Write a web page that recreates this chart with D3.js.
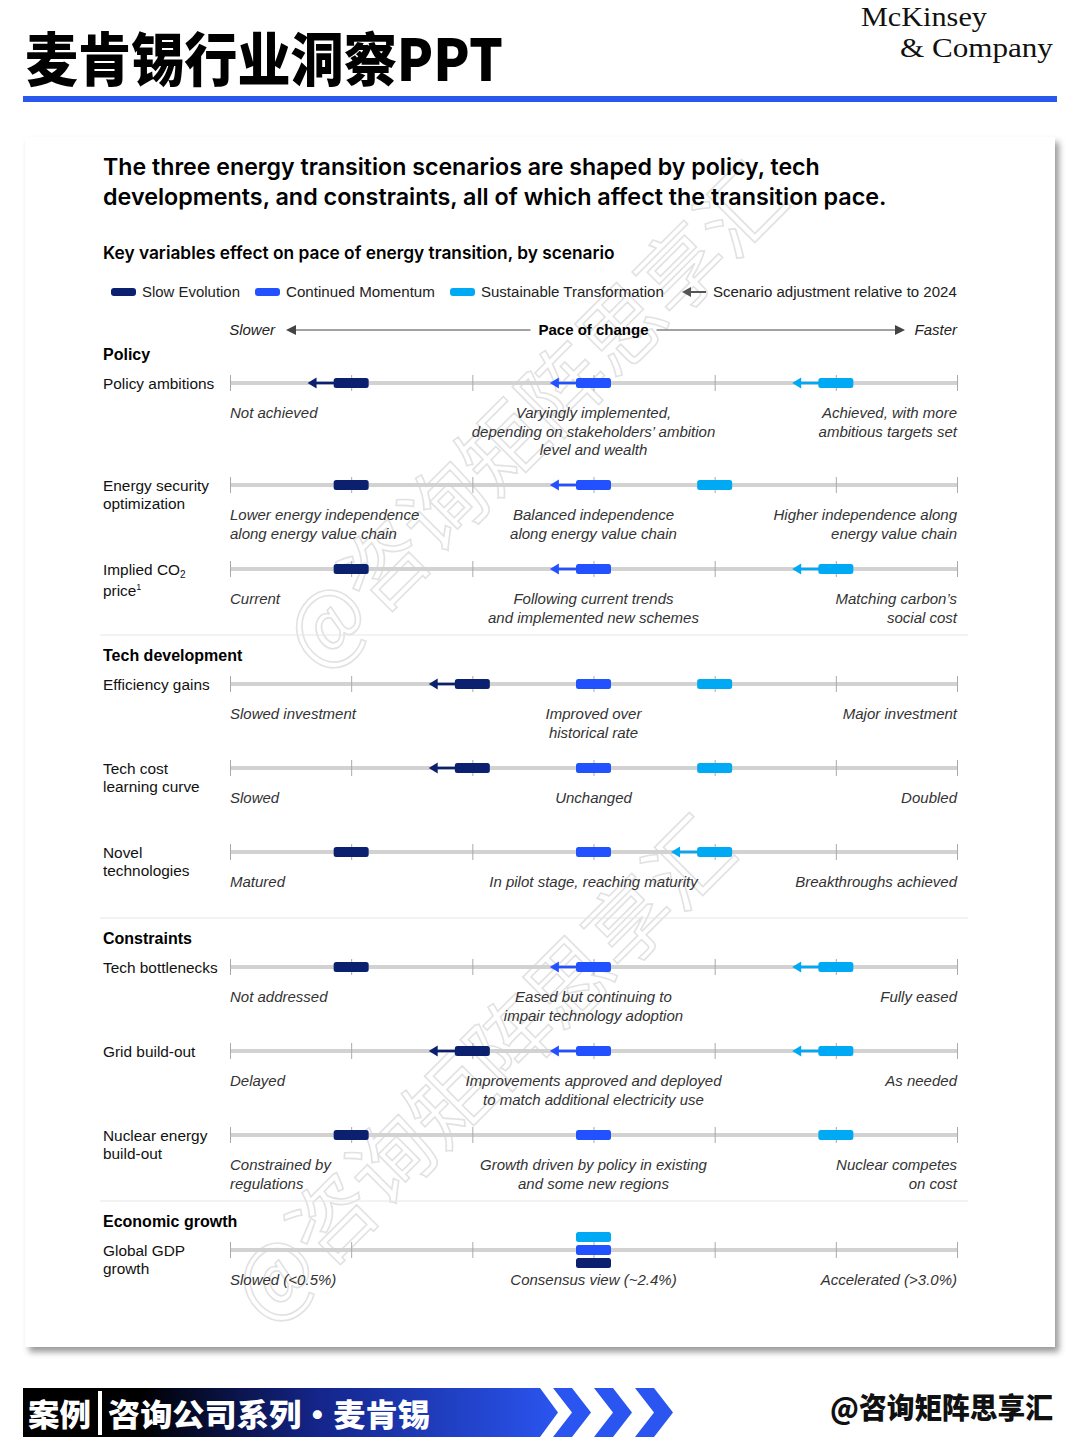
<!DOCTYPE html>
<html><head><meta charset="utf-8">
<script src="https://cdn.jsdelivr.net/npm/d3@7"></script>
<style>
html,body{margin:0;padding:0;background:#fff;}
svg{display:block;}
</style></head>
<body>
<svg id="chart" width="1080" height="1437"></svg>
<script>
// ---------------- DATA ----------------
const scenarios = ["Slow Evolution", "Continued Momentum", "Sustainable Transformation"];
const adjustmentLabel = "Scenario adjustment relative to 2024";
const sections = ["Policy", "Tech development", "Constraints", "Economic growth"];
const rowSection = [0, 0, 0, 1, 1, 1, 2, 2, 2, 3];
const rowLabels = [
  "Policy ambitions",
  "Energy security\noptimization",
  "Implied CO₂\nprice¹",
  "Efficiency gains",
  "Tech cost\nlearning curve",
  "Novel\ntechnologies",
  "Tech bottlenecks",
  "Grid build-out",
  "Nuclear energy\nbuild-out",
  "Global GDP\ngrowth"
];
// position on the 0 (slower) .. 6 (faster) pace scale
const slowValues        = [1, 1, 1, 2, 2, 1, 1, 2, 1, 3];
const momentumValues    = [3, 3, 3, 3, 3, 3, 3, 3, 3, 3];
const sustainableValues = [5, 4, 5, 4, 4, 4, 5, 5, 5, 3];
// 1 = adjusted towards slower relative to 2024 (arrow)
const slowAdjusted        = [1, 0, 0, 1, 1, 0, 0, 1, 0, 0];
const momentumAdjusted    = [1, 1, 1, 0, 0, 0, 1, 1, 0, 0];
const sustainableAdjusted = [1, 0, 1, 0, 0, 1, 1, 1, 0, 0];
const paceTicks = [0, 1, 2, 3, 4, 5, 6];
const descLeft = [
  "Not achieved",
  "Lower energy independence\nalong energy value chain",
  "Current",
  "Slowed investment",
  "Slowed",
  "Matured",
  "Not addressed",
  "Delayed",
  "Constrained by\nregulations",
  "Slowed (<0.5%)"
];
const descMid = [
  "Varyingly implemented,\ndepending on stakeholders’ ambition\nlevel and wealth",
  "Balanced independence\nalong energy value chain",
  "Following current trends\nand implemented new schemes",
  "Improved over\nhistorical rate",
  "Unchanged",
  "In pilot stage, reaching maturity",
  "Eased but continuing to\nimpair technology adoption",
  "Improvements approved and deployed\nto match additional electricity use",
  "Growth driven by policy in existing\nand some new regions",
  "Consensus view (~2.4%)"
];
const descRight = [
  "Achieved, with more\nambitious targets set",
  "Higher independence along\nenergy value chain",
  "Matching carbon’s\nsocial cost",
  "Major investment",
  "Doubled",
  "Breakthroughs achieved",
  "Fully eased",
  "As needed",
  "Nuclear competes\non cost",
  "Accelerated (>3.0%)"
];
const headerTitle = "麦肯锡行业洞察PPT";
const chartTitle = ["The three energy transition scenarios are shaped by policy, tech",
                    "developments, and constraints, all of which affect the transition pace."];
const chartSubtitle = "Key variables effect on pace of energy transition, by scenario";
const footerLeft = "案例";
const footerMid = "咨询公司系列·麦肯锡";
const footerRight = "@咨询矩阵思享汇";

// ---------------- STYLE ----------------
const colors = ["#0b2170", "#2251ff", "#00a9f4"];
const SANS = "'Liberation Sans', Arial, sans-serif";
const HEAD = "Inter, 'Liberation Sans', sans-serif";
const CJK = "'Noto Sans CJK SC', sans-serif";
const TXT = "#222";

const svg = d3.select("#chart");
const defs = svg.append("defs");

function fit(sel, w) {
  const m = sel.node().getComputedTextLength();
  const fs = parseFloat(sel.attr("font-size"));
  sel.attr("font-size", fs * w / m);
  return sel;
}
// horizontal squeeze/stretch to a target width, keeping the glyph height
function fitX(sel, w) {
  const m = sel.node().getComputedTextLength();
  const x0 = +sel.attr("x");
  sel.attr("transform", `translate(${x0},0) scale(${w / m},1) translate(${-x0},0)`);
  return sel;
}

// ---------- header ----------
fitX(svg.append("text").attr("x", 25).attr("y", 81).attr("font-family", CJK).attr("font-weight", 900)
  .attr("font-size", 58).attr("fill", "#000").text(headerTitle), 478);
fitX(svg.append("text").attr("x", 861).attr("y", 26).attr("font-family", "'Liberation Serif', serif")
  .attr("font-size", 28).attr("fill", "#111").text("McKinsey"), 126);
fitX(svg.append("text").attr("x", 900).attr("y", 57).attr("font-family", "'Liberation Serif', serif")
  .attr("font-size", 28).attr("fill", "#111").text("& Company"), 153);
svg.append("rect").attr("x", 23).attr("y", 96).attr("width", 1034).attr("height", 6).attr("fill", "#2b58ec");

// ---------- card ----------
const sh = defs.append("filter").attr("id", "sh").attr("x", "-5%").attr("y", "-5%").attr("width", "110%").attr("height", "110%");
sh.append("feDropShadow").attr("dx", 4).attr("dy", 5).attr("stdDeviation", 3).attr("flood-color", "#000").attr("flood-opacity", 0.4);
svg.append("rect").attr("x", 25).attr("y", 137).attr("width", 1030).attr("height", 1210)
  .attr("fill", "#fff").attr("filter", "url(#sh)");

// ---------- watermark ----------
[[530, 412], [478, 1065]].forEach(([cx, cy]) => {
  svg.append("text").attr("transform", `translate(${cx},${cy}) rotate(-45)`)
    .attr("text-anchor", "middle").attr("dominant-baseline", "central")
    .attr("font-family", CJK).attr("font-weight", 400).attr("font-size", 84)
    .attr("fill", "none").attr("stroke", "#e2e2e2").attr("stroke-width", 1.6)
    .text(footerRight);
});

// ---------- titles ----------
chartTitle.forEach((t, i) => {
  fit(svg.append("text").attr("x", 103).attr("y", 175 + i * 30).attr("font-family", HEAD)
    .attr("font-weight", 600).attr("font-size", 23).attr("fill", "#000").text(t), i === 0 ? 717 : 784);
});
fit(svg.append("text").attr("x", 103).attr("y", 259).attr("font-family", HEAD).attr("font-weight", 600)
  .attr("font-size", 17).attr("fill", "#000").text(chartSubtitle), 512);

// ---------- legend ----------
const legendWidths = [98, 149, 183];
let lx = 111;
const ly = 292;
scenarios.forEach((s, i) => {
  svg.append("rect").attr("x", lx).attr("y", ly - 4).attr("width", 25).attr("height", 8).attr("rx", 3).attr("fill", colors[i]);
  const t = svg.append("text").attr("x", lx + 31).attr("y", ly + 5).attr("font-family", SANS)
    .attr("font-size", 15).attr("fill", TXT).text(s);
  fitX(t, legendWidths[i]);
  lx += 31 + legendWidths[i] + 15;
});
lx += 3;
svg.append("line").attr("x1", lx + 7).attr("x2", lx + 24).attr("y1", ly).attr("y2", ly).attr("stroke", "#555").attr("stroke-width", 2);
svg.append("path").attr("d", `M${lx},${ly}L${lx + 9},${ly - 5}L${lx + 9},${ly + 5}Z`).attr("fill", "#555");
fitX(svg.append("text").attr("x", lx + 31).attr("y", ly + 5).attr("font-family", SANS).attr("font-size", 15)
  .attr("fill", TXT).text(adjustmentLabel), 957 - (lx + 31));

// ---------- scale ----------
const x = d3.scaleLinear().domain([0, 6]).range([230, 957]);

// pace of change header
const py = 330;
svg.append("text").attr("x", x(0) + 45).attr("y", py + 5).attr("text-anchor", "end").attr("font-family", SANS)
  .attr("font-style", "italic").attr("font-size", 15).attr("fill", TXT).text("Slower");
svg.append("text").attr("x", x(6)).attr("y", py + 5).attr("text-anchor", "end").attr("font-family", SANS)
  .attr("font-style", "italic").attr("font-size", 15).attr("fill", TXT).text("Faster");
svg.append("text").attr("x", x(3)).attr("y", py + 5).attr("text-anchor", "middle").attr("font-family", SANS)
  .attr("font-weight", 700).attr("font-size", 15).attr("fill", "#000").text("Pace of change");
svg.append("line").attr("x1", 292).attr("x2", x(3) - 63).attr("y1", py).attr("y2", py).attr("stroke", "#444").attr("stroke-width", 1);
svg.append("path").attr("d", `M286,${py}L296,${py - 5}L296,${py + 5}Z`).attr("fill", "#444");
svg.append("line").attr("x1", x(3) + 63).attr("x2", 900).attr("y1", py).attr("y2", py).attr("stroke", "#444").attr("stroke-width", 1);
svg.append("path").attr("d", `M905,${py}L895,${py - 5}L895,${py + 5}Z`).attr("fill", "#444");

// ---------- rows layout ----------
const rowY = [];
const headY = [];
const sepY = [];
let y = 354;
rowLabels.forEach((lab, i) => {
  if (i === 0 || rowSection[i] !== rowSection[i - 1]) {
    if (i > 0) { y += 66; sepY.push(y); y += 20; }
    headY.push(y);
    y += 29;
  } else {
    const prevLines = descMid[i - 1].split("\n").length;
    y += 84 + Math.max(0, prevLines - 2) * 18;
  }
  rowY.push(y);
});

sepY.forEach(s => svg.append("line").attr("x1", 100).attr("x2", 968).attr("y1", s).attr("y2", s)
  .attr("stroke", "#e6e6e6").attr("stroke-width", 1));
sections.forEach((s, i) => svg.append("text").attr("x", 103).attr("y", headY[i] + 6).attr("font-family", SANS)
  .attr("font-weight", 700).attr("font-size", 16).attr("fill", "#000").text(s));

function multiline(g, str, xx, yy, anchor, italic, fs) {
  const t = g.append("text").attr("x", xx).attr("y", yy).attr("text-anchor", anchor)
    .attr("font-family", SANS).attr("font-size", fs).attr("fill", italic ? "#333" : "#111")
    .attr("font-style", italic ? "italic" : "normal");
  str.split("\n").forEach((line, k) => {
    const ts = t.append("tspan").attr("x", xx).attr("dy", k === 0 ? 0 : 18.5);
    const parts = line.split(/([₂¹])/);
    let shifted = 0;
    parts.forEach(p => {
      if (p === "₂") { ts.append("tspan").attr("font-size", 10).attr("dy", 3).text("2"); shifted = -3; }
      else if (p === "¹") { ts.append("tspan").attr("font-size", 9).attr("dy", -6).text("1"); shifted = 6; }
      else if (p) { const q = ts.append("tspan").text(p); if (shifted) { q.attr("dy", shifted); shifted = 0; } }
    });
  });
  return t;
}

const vals = [slowValues, momentumValues, sustainableValues];
const adj = [slowAdjusted, momentumAdjusted, sustainableAdjusted];
const barW = 35, barH = 10, arrowLen = 0.36;

rowLabels.forEach((lab, i) => {
  const ry = rowY[i];
  const g = svg.append("g");
  multiline(g, lab, 103, ry + 5.5, "start", false, 15.4);
  g.append("line").attr("x1", x(0)).attr("x2", x(6)).attr("y1", ry).attr("y2", ry)
    .attr("stroke", "#d2d2d2").attr("stroke-width", 4);
  const ax = g.append("g").attr("transform", `translate(0,${ry - 8})`)
    .call(d3.axisBottom(x).tickValues(paceTicks).tickSize(16).tickFormat(""));
  ax.select(".domain").remove();
  ax.selectAll(".tick line").attr("stroke", "#aaa").attr("stroke-width", 1);

  multiline(g, descLeft[i], x(0), ry + 35, "start", true, 15);
  multiline(g, descMid[i], x(3), ry + 35, "middle", true, 15);
  multiline(g, descRight[i], x(6), ry + 35, "end", true, 15);

  const same = vals[0][i] === vals[1][i] && vals[1][i] === vals[2][i];
  [0, 1, 2].forEach(s => {
    const v = vals[s][i];
    const by = same ? ry + (1 - s) * 13 : ry;
    if (adj[s][i]) {
      const tip = x(v - arrowLen);
      g.append("line").attr("x1", tip + 6).attr("x2", x(v) - barW / 2 + 2).attr("y1", by).attr("y2", by)
        .attr("stroke", colors[s]).attr("stroke-width", 2.5);
      g.append("path").attr("d", `M${tip},${by}L${tip + 9},${by - 5.5}L${tip + 9},${by + 5.5}Z`).attr("fill", colors[s]);
    }
    g.append("rect").attr("x", x(v) - barW / 2).attr("y", by - barH / 2).attr("width", barW).attr("height", barH)
      .attr("rx", 2.5).attr("fill", colors[s]);
  });
});

// ---------- footer ----------
const grad = defs.append("linearGradient").attr("id", "fg").attr("x1", "0%").attr("x2", "100%");
grad.append("stop").attr("offset", "0%").attr("stop-color", "#000");
grad.append("stop").attr("offset", "22%").attr("stop-color", "#000");
grad.append("stop").attr("offset", "55%").attr("stop-color", "#14258a");
grad.append("stop").attr("offset", "100%").attr("stop-color", "#2a55f0");
const fy0 = 1388, fy1 = 1437, fm = (fy0 + fy1) / 2;
svg.append("path").attr("d", `M23,${fy0}L540,${fy0}L558,${fm}L540,${fy1}L23,${fy1}Z`).attr("fill", "url(#fg)");
[0, 1, 2].forEach(k => {
  const cx = 553 + k * 41;
  svg.append("path").attr("d", `M${cx},${fy0}L${cx + 19},${fy0}L${cx + 38},${fm}L${cx + 19},${fy1}L${cx},${fy1}L${cx + 19},${fm}Z`)
    .attr("fill", "#2a55f0");
});
fitX(svg.append("text").attr("x", 28).attr("y", 1426).attr("font-family", CJK).attr("font-weight", 900)
  .attr("font-size", 31).attr("fill", "#fff").text(footerLeft), 63);
svg.append("rect").attr("x", 98).attr("y", 1391).attr("width", 4).attr("height", 44).attr("fill", "#fff");
fitX(svg.append("text").attr("x", 108).attr("y", 1426).attr("font-family", CJK).attr("font-weight", 900)
  .attr("font-size", 31).attr("fill", "#fff").text(footerMid), 322);
fitX(svg.append("text").attr("x", 1053).attr("y", 1419).attr("text-anchor", "end").attr("font-family", CJK).attr("font-weight", 900)
  .attr("font-size", 29).attr("fill", "#111").text(footerRight), 223);
</script>
</body></html>
